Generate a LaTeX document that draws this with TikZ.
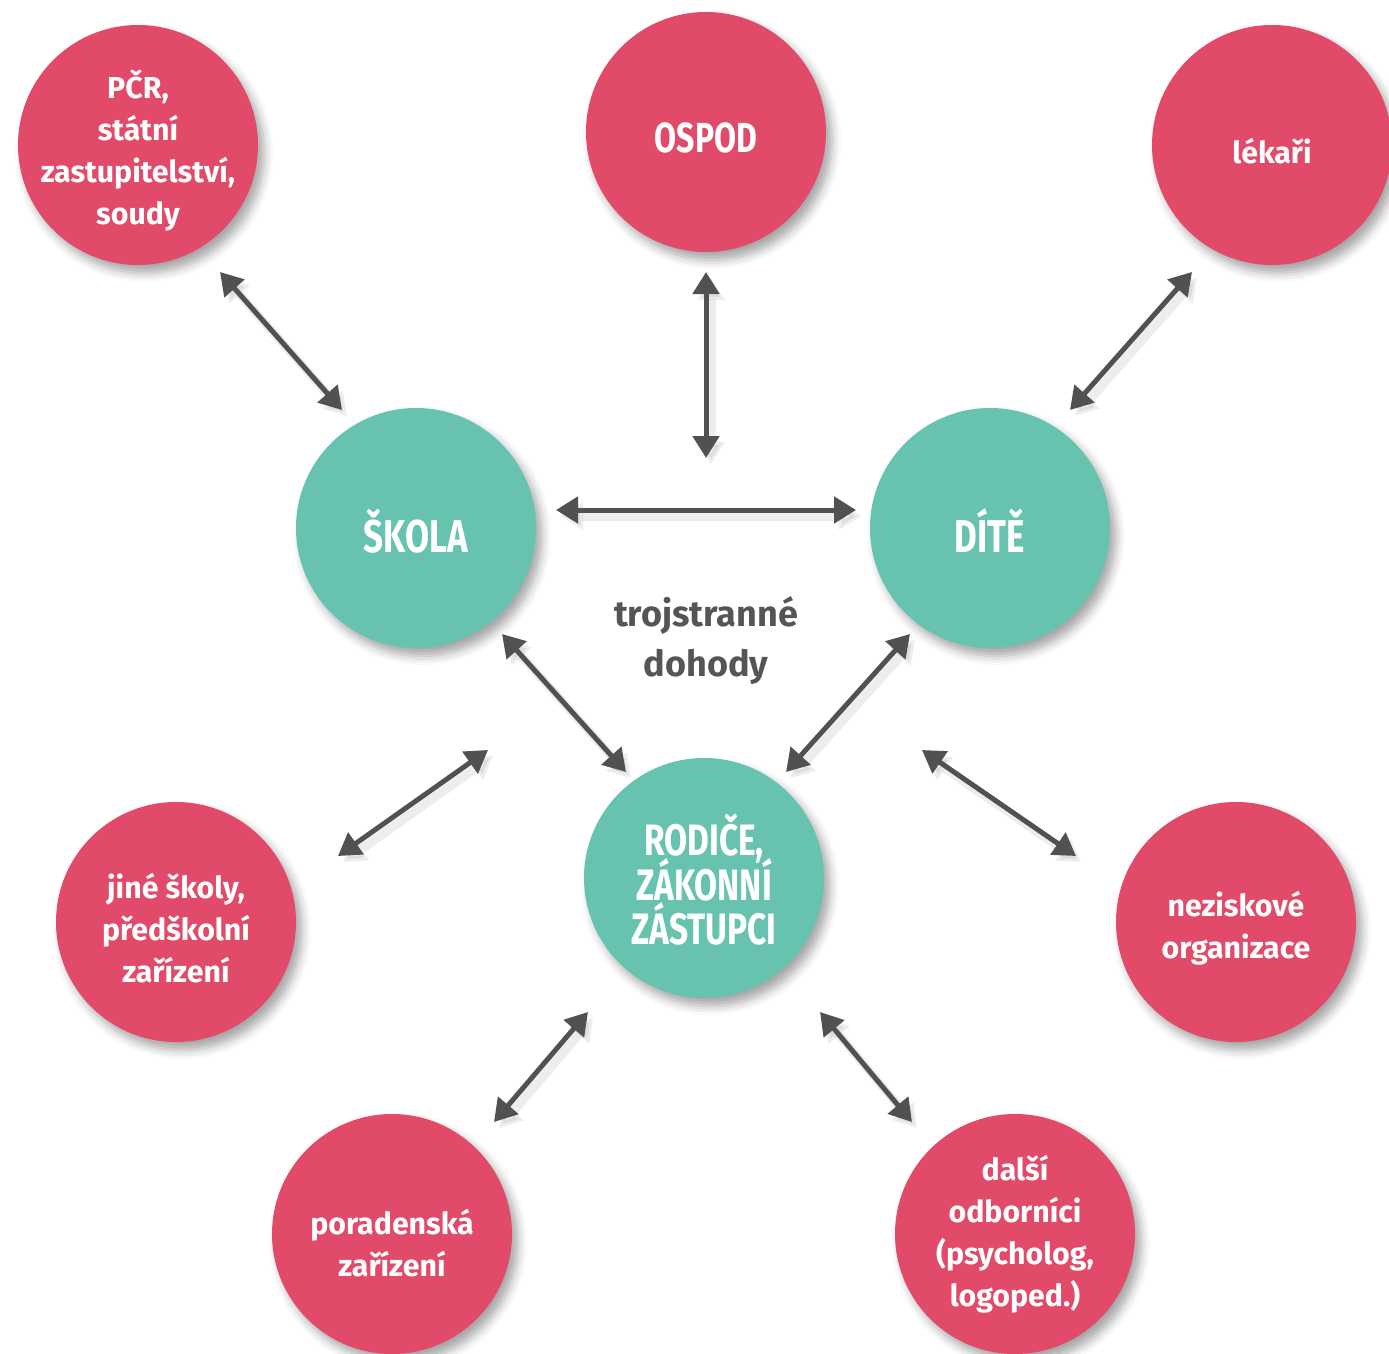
\documentclass[tikz,border=0pt]{standalone}
\usepackage{fontspec}
\setmainfont{Fira Sans}
\newfontfamily\condfont[FakeStretch=0.76]{Fira Sans}
\usetikzlibrary{arrows.meta,shadows.blur}
\definecolor{myred}{HTML}{E14A68}
\definecolor{myteal}{HTML}{67C3B0}
\definecolor{arrowgray}{HTML}{515154}
\definecolor{textgray}{HTML}{555558}
\newcommand{\nolsl}{\lineskiplimit -100pt\relax}
\tikzset{
  circ/.style={circle, minimum size=240pt, inner sep=0pt,
    blur shadow={shadow xshift=6pt, shadow yshift=-8pt, shadow blur radius=9pt, shadow opacity=35}},
  redc/.style={circ, fill=myred},
  tealc/.style={circ, fill=myteal},
  lbl/.style={text=white, align=center, inner sep=0pt, font=\bfseries\fontsize{30.3}{42}\selectfont},
  caps/.style={text=white, align=center, inner sep=0pt, font={\condfont\bfseries\fontsize{46}{45}\selectfont\nolsl}},
  link/.style={draw=arrowgray, line width=5pt, {Triangle[length=22pt,width=26pt]}-{Triangle[length=22pt,width=26pt]},
    preaction={draw=black!40, opacity=0.18, line width=9pt, transform canvas={shift={(5pt,-6pt)}}}},
}
\begin{document}
\begin{tikzpicture}[x=1pt,y=-1pt]
\useasboundingbox (0,0) rectangle (1389,1354);
% outer (red) nodes
\node[redc] (pcr) at (138,145) {};
\node[redc] (ospod) at (706,132) {};
\node[redc] (lek) at (1272,145) {};
\node[redc] (jine) at (176,922) {};
\node[redc] (nezisk) at (1236,922) {};
\node[redc] (porad) at (392,1234) {};
\node[redc] (dalsi) at (1015,1234) {};
% central (teal) nodes
\node[tealc] (skola) at (416,528) {};
\node[tealc] (dite) at (990,528) {};
\node[tealc] (rodice) at (704,878) {};
% texts
\node[lbl] (pcr-t) at ([yshift=-6pt]pcr.center) {PČR,\\státní\\zastupitelství,\\soudy};
\node[caps, font={\condfont\bfseries\fontsize{42}{45}\selectfont}] (ospod-t) at ([yshift=-6pt]ospod.center) {OSPOD};
\node[lbl] (lek-t) at ([yshift=-6pt]lek.center) {lékaři};
\node[lbl] (jine-t) at ([yshift=-6pt]jine.center) {jiné školy,\\předškolní\\zařízení};
\node[lbl] (nezisk-t) at ([yshift=-6pt]nezisk.center) {neziskové\\organizace};
\node[lbl] (porad-t) at ([yshift=-9pt]porad.center) {poradenská\\zařízení};
\node[lbl] (dalsi-t) at ([yshift=0pt]dalsi.center) {další\\odborníci\\(psycholog,\\logoped.)};
\node[caps] (skola-t) at ([yshift=-3pt]skola.center) {ŠKOLA};
\node[caps] (dite-t) at ([yshift=-3pt]dite.center) {DÍTĚ};
\node[caps, font={\condfont\bfseries\fontsize{44}{44.5}\selectfont\nolsl}] (rodice-t) at ([yshift=-2pt]rodice.center) {RODIČE,\\ZÁKONNÍ\\ZÁSTUPCI};
% label
\node[text=textgray, align=center, inner sep=0pt, font=\bfseries\fontsize{36}{50}\selectfont] (troj) at (706,640) {trojstranné\\dohody};
% arrow end coordinates
\coordinate (a1) at (220,272); \coordinate (b1) at (342,410);
\coordinate (a2) at (706,272); \coordinate (b2) at (706,458);
\coordinate (a3) at (1192,272); \coordinate (b3) at (1070,410);
\coordinate (a4) at (556,510); \coordinate (b4) at (856,510);
\coordinate (a5) at (502,634); \coordinate (b5) at (626,772);
\coordinate (a6) at (910,634); \coordinate (b6) at (786,772);
\coordinate (a7) at (488,750); \coordinate (b7) at (338,856);
\coordinate (a8) at (922,750); \coordinate (b8) at (1076,856);
\coordinate (a9) at (588,1012); \coordinate (b9) at (494,1122);
\coordinate (a10) at (820,1012); \coordinate (b10) at (912,1122);
\foreach \i in {1,...,10} { \path[link] (a\i) -- (b\i); }
\end{tikzpicture}
\end{document}
